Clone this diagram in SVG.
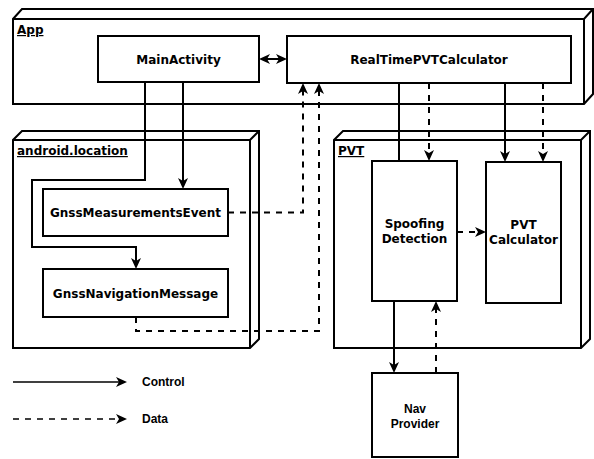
<svg xmlns="http://www.w3.org/2000/svg" width="594" height="459" viewBox="0 0 594 459">
<style>
.pkg{fill:#fff;stroke:#000;stroke-width:2;stroke-linejoin:miter}
.pl{fill:none;stroke:#000;stroke-width:2}
.node{fill:#fff;stroke:#000;stroke-width:2}
.t{font-family:"DejaVu Sans",Verdana,sans-serif;font-weight:bold;font-size:12px;text-anchor:middle;fill:#000}
.lbl{font-family:"DejaVu Sans",Verdana,sans-serif;font-weight:bold;font-size:12px;text-decoration:underline;fill:#000}
.a{font-family:"Liberation Sans",Arial,sans-serif;font-weight:bold;font-size:12px;fill:#000}
.am{text-anchor:middle}
.c{fill:none;stroke:#000;stroke-width:2}
.d{stroke-dasharray:6 6}
.lg{stroke-width:1.5}
</style>
<defs>
<marker id="ah" viewBox="0 0 11 10" refX="3" refY="5" markerWidth="11" markerHeight="10" markerUnits="userSpaceOnUse" orient="auto-start-reverse">
<path d="M0,0 L11,5 L0,10 L3,5 Z" fill="#000"/>
</marker>
</defs>
<rect width="594" height="459" fill="#fff"/>

<g id="pkg-app">
<path class="pkg" d="M13,104 V19 L22,9 H593 V94 L584,104 Z"/>
<path class="pl" d="M13,19 H584 L593,9 M584,19 V104"/>
<text class="lbl" x="17" y="34">App</text>
</g>
<g id="pkg-android-location">
<path class="pkg" d="M13,348 V140 L22,131 H259 V339 L250,348 Z"/>
<path class="pl" d="M13,140 H250 L259,131 M250,140 V348"/>
<text class="lbl" x="17" y="155">android.location</text>
</g>
<g id="pkg-pvt">
<path class="pkg" d="M334,348 V140 L343,131 H590 V339 L581,348 Z"/>
<path class="pl" d="M334,140 H581 L590,131 M581,140 V348"/>
<text class="lbl" x="338" y="155">PVT</text>
</g>

<g id="connectors">
<path class="c" d="M145,82 V180 H32 V247 H136 V261" marker-end="url(#ah)"/>
<path class="c" d="M183,82 V181" marker-end="url(#ah)"/>
<path class="c" d="M267,59 H279" marker-start="url(#ah)" marker-end="url(#ah)"/>
<path class="c d" d="M228,212.5 H303 V91" marker-end="url(#ah)"/>
<path class="c d" d="M136,317 V331 H319 V91" marker-end="url(#ah)"/>
<path class="c" d="M399,83 V230 H394 V365" marker-end="url(#ah)"/>
<path class="c d" d="M429,83 V153" marker-end="url(#ah)"/>
<path class="c" d="M505,83 V154" marker-end="url(#ah)"/>
<path class="c d" d="M543,83 V154" marker-end="url(#ah)"/>
<path class="c d" d="M457,232 H478" marker-end="url(#ah)"/>
<path class="c d" d="M436,373 V309" marker-end="url(#ah)"/>
</g>

<g id="node-mainactivity">
<rect class="node" x="98" y="36" width="161" height="46"/>
<text class="t" x="178.5" y="63.5">MainActivity</text>
</g>
<g id="node-realtimepvtcalculator">
<rect class="node" x="287" y="36" width="284" height="47"/>
<text class="t" x="429" y="64">RealTimePVTCalculator</text>
</g>
<g id="node-gnssmeasurementsevent">
<rect class="node" x="43" y="189" width="185" height="47"/>
<text class="t" x="135.5" y="217">GnssMeasurementsEvent</text>
</g>
<g id="node-gnssnavigationmessage">
<rect class="node" x="43" y="269" width="185" height="48"/>
<text class="t" x="135.5" y="297.5">GnssNavigationMessage</text>
</g>
<g id="node-spoofing-detection">
<rect class="node" x="372" y="161" width="85" height="140"/>
<text class="t" x="414.5" y="228">Spoofing</text>
<text class="t" x="414.5" y="243">Detection</text>
</g>
<g id="node-pvt-calculator">
<rect class="node" x="486" y="162" width="75" height="141"/>
<text class="t" x="523.5" y="229">PVT</text>
<text class="t" x="523.5" y="244">Calculator</text>
</g>
<g id="node-nav-provider">
<rect class="node" x="372" y="373" width="86" height="84"/>
<text class="a am" x="415" y="413">Nav</text>
<text class="a am" x="415" y="428">Provider</text>
</g>

<g id="legend">
<path class="c lg" d="M13,382 H119" marker-end="url(#ah)"/>
<path class="c lg d" d="M13,419 H119" marker-end="url(#ah)"/>
<text class="a" x="142" y="386">Control</text>
<text class="a" x="142" y="423">Data</text>
</g>
</svg>
